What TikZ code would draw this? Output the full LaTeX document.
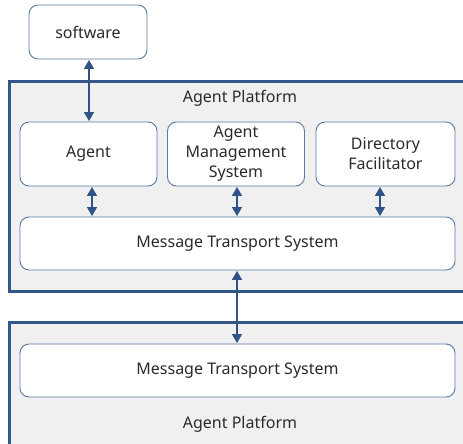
\documentclass[tikz,border=0pt]{standalone}
\usepackage{fontspec}
\setmainfont{Noto Sans}
\usetikzlibrary{arrows.meta}
\definecolor{pfborder}{HTML}{34578A}
\definecolor{boxborder}{HTML}{5A7BA3}
\definecolor{pffill}{HTML}{F0F0F0}
\definecolor{arrowc}{HTML}{2F5386}
\definecolor{txt}{HTML}{2A2A2A}
\tikzset{
  platform/.style={draw=pfborder, line width=3pt, fill=pffill},
  box/.style={draw=boxborder, line width=0.9pt, fill=white, rounded corners=9pt, align=center, font=\fontsize{16}{20}\selectfont, text=txt, inner sep=0pt},
  lbl/.style={font=\fontsize{16}{20}\selectfont, text=txt, inner sep=0pt},
  link/.style={draw=arrowc, line width=1.3pt, {Triangle[width=10pt,length=9pt]}-{Triangle[width=10pt,length=9pt]}, shorten <=0.5pt, shorten >=0.5pt}
}
\begin{document}
\begin{tikzpicture}[x=1pt,y=-1pt]
\useasboundingbox (0,0) rectangle (463,444);
% platforms
\draw[platform] (9.5,81.5) rectangle (465,291);
\draw[platform] (9.5,322.5) rectangle (465,460);
\node[lbl] (pt1) at (240,98) {Agent Platform};
\node[lbl] (pt2) at (240,424) {Agent Platform};
% boxes
\node[box, minimum width=118pt, minimum height=54pt] (sw) at (88,32) {software};
\node[box, minimum width=137pt, minimum height=64pt] (ag) at (88.5,154) {Agent};
\node[box, minimum width=137pt, minimum height=64pt] (ams) at (236,154) {Agent\\Management\\System};
\node[box, minimum width=139pt, minimum height=64pt] (df) at (385.5,154) {Directory\\Facilitator};
\node[box, minimum width=435pt, minimum height=53pt] (mts) at (237.5,243.5) {Message Transport System};
\node[box, minimum width=435pt, minimum height=53pt] (mts2) at (237.5,370.5) {Message Transport System};
% connectors
\draw[link] (sw.south -| 89,0) -- (ag.north -| 89,0);
\draw[link] (ag.south -| 92,0) -- (mts.north -| 92,0);
\draw[link] (ams.south -| 237,0) -- (mts.north -| 237,0);
\draw[link] (df.south -| 380,0) -- (mts.north -| 380,0);
\draw[link] (mts.south -| 237,0) -- (mts2.north -| 237,0);
\end{tikzpicture}
\end{document}
